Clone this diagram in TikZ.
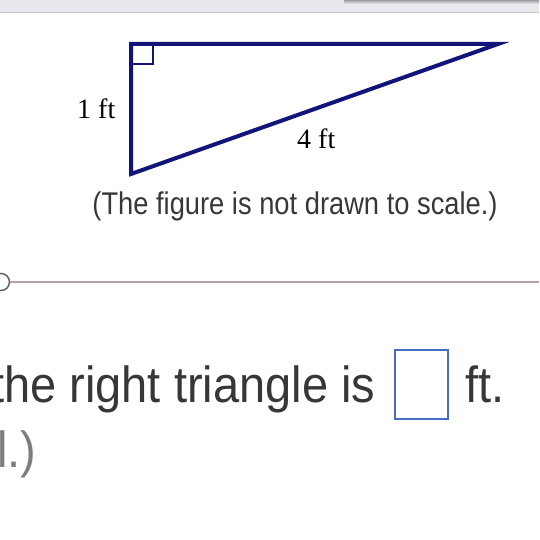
\documentclass[tikz,border=0pt]{standalone}
\usepackage{fontspec}
\setmainfont{Liberation Serif}
\newfontfamily\arialf{Liberation Sans}
\definecolor{navy}{RGB}{18,20,122}
\definecolor{bartop}{RGB}{232,233,237}
\definecolor{barline}{RGB}{200,201,206}
\definecolor{txt}{RGB}{55,55,58}
\definecolor{txtlight}{RGB}{125,125,128}
\definecolor{boxblue}{RGB}{70,110,195}
\definecolor{sepline}{RGB}{184,160,164}
\definecolor{circgray}{RGB}{95,100,110}
\tikzset{
  tri/.style={draw=navy,line width=4pt,line join=miter},
  rightmark/.style={draw=navy,line width=2pt},
  serlabel/.style={inner sep=0pt,anchor=base west,font=\fontsize{28}{32}\selectfont,text=black},
  note/.style={inner sep=0pt,anchor=base,font=\arialf\fontsize{27.3}{32}\selectfont,text=txt},
  bigtext/.style={inner sep=0pt,anchor=base west,font=\arialf\fontsize{47}{56}\selectfont,text=txt},
  answerbox/.style={draw=boxblue,line width=1.5pt},
}
\begin{document}
\begin{tikzpicture}[x=1pt,y=-1pt]
\useasboundingbox (0,0) rectangle (539,540);
\clip (0,0) rectangle (539,540);
% top bar
\fill[bartop] (0,0) rectangle (539,12);
\shade[top color=gray!75,bottom color=bartop] (344,0) rectangle (539,4);
\draw[barline,line width=1.2pt] (0,12.5) -- (539,12.5);
% triangle
\coordinate (A) at (131,44);
\coordinate (B) at (498,44);
\coordinate (C) at (131,174);
\draw[tri] (A) -- (B) -- (C) -- cycle;
\coordinate (R1) at (153,64);
\draw[rightmark] (A) rectangle (R1);
\node[serlabel] (l1) at (77,119) {1 ft};
\node[serlabel] (l4) at (297,149) {4 ft};
\node[note] (n) at (295,214) {\scalebox{1}[1.15]{(The figure is not drawn to scale.)}};
% separator
\node[draw=circgray,line width=1.5pt,circle,minimum size=17pt,inner sep=0pt] (circ) at (1,282) {};
\coordinate (lineend) at (539,282);
\draw[sepline,line width=1.5pt] (circ.east) -- (lineend);
% question text
\node[bigtext] (q) at (-9,402) {\scalebox{1}[1.08]{the right triangle is}};
\node[answerbox,minimum width=53pt,minimum height=69pt,inner sep=0pt] (ans) at (421.5,384.5) {};
\node[bigtext] (ft) at (465,402) {\scalebox{1}[1.08]{ft.}};
\node[bigtext,text=txtlight] (hint) at (-3,467) {\scalebox{1}[1.08]{l.)}};
\end{tikzpicture}
\end{document}
